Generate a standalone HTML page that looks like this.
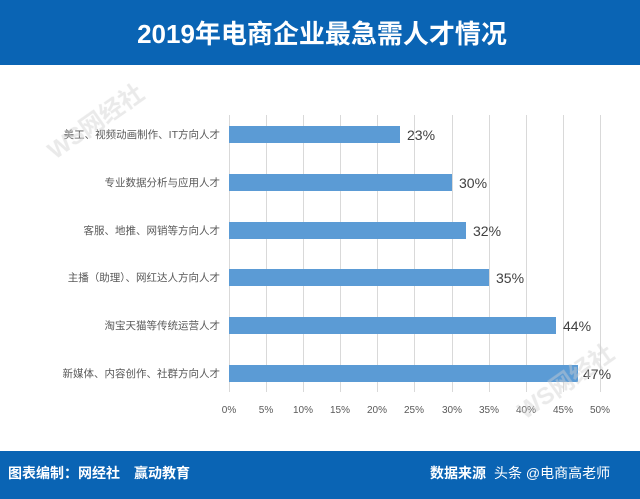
<!DOCTYPE html>
<html><head><meta charset="utf-8"><style>
body{margin:0;width:640px;height:499px;overflow:hidden;background:#fff;font-family:"Liberation Sans","Noto Sans CJK SC",sans-serif;}
</style></head><body>
<svg width="640" height="499" xmlns="http://www.w3.org/2000/svg" style="display:block">
<rect x="0" y="0" width="640" height="65" fill="#0a64b4"/>
<text x="322" y="43" text-anchor="middle" fill="#fff" font-size="26" font-weight="bold" font-family="Liberation Sans, Noto Sans CJK SC, sans-serif">2019年电商企业最急需人才情况</text>
<g stroke="#d9d9d9" stroke-width="1">
<line x1="229.5" y1="115" x2="229.5" y2="392"/>
<line x1="266.5" y1="115" x2="266.5" y2="392"/>
<line x1="303.5" y1="115" x2="303.5" y2="392"/>
<line x1="340.5" y1="115" x2="340.5" y2="392"/>
<line x1="377.5" y1="115" x2="377.5" y2="392"/>
<line x1="414.5" y1="115" x2="414.5" y2="392"/>
<line x1="452.5" y1="115" x2="452.5" y2="392"/>
<line x1="489.5" y1="115" x2="489.5" y2="392"/>
<line x1="526.5" y1="115" x2="526.5" y2="392"/>
<line x1="563.5" y1="115" x2="563.5" y2="392"/>
<line x1="600.5" y1="115" x2="600.5" y2="392"/>
</g>
<g fill="#5b9bd5">
<rect x="229" y="126" width="171" height="17"/>
<rect x="229" y="174" width="223" height="17"/>
<rect x="229" y="222" width="237" height="17"/>
<rect x="229" y="269" width="260" height="17"/>
<rect x="229" y="317" width="327" height="17"/>
<rect x="229" y="365" width="349" height="17"/>
</g>
<g font-size="14" fill="#404040">
<text x="407" y="140">23%</text>
<text x="459" y="188">30%</text>
<text x="473" y="236">32%</text>
<text x="496" y="283">35%</text>
<text x="563" y="331">44%</text>
<text x="583" y="379">47%</text>
</g>
<g font-size="10.5" fill="#595959" text-anchor="end">
<text x="220" y="138">美工、视频动画制作、IT方向人才</text>
<text x="220" y="186">专业数据分析与应用人才</text>
<text x="220" y="234">客服、地推、网销等方向人才</text>
<text x="220" y="281">主播（助理）、网红达人方向人才</text>
<text x="220" y="329">淘宝天猫等传统运营人才</text>
<text x="220" y="377">新媒体、内容创作、社群方向人才</text>
</g>
<g font-size="10" fill="#595959" text-anchor="middle">
<text x="229" y="413">0%</text><text x="266" y="413">5%</text><text x="303" y="413">10%</text>
<text x="340" y="413">15%</text><text x="377" y="413">20%</text><text x="414" y="413">25%</text>
<text x="452" y="413">30%</text><text x="489" y="413">35%</text><text x="526" y="413">40%</text>
<text x="563" y="413">45%</text><text x="600" y="413">50%</text>
</g>
<g fill="#d0d0d0" opacity="0.45" font-weight="bold">
<text x="55" y="160" font-size="24" transform="rotate(-35 55 160)">WS网经社</text>
<text x="525" y="420" font-size="24" transform="rotate(-35 525 420)">WS网经社</text>
</g>
<rect x="0" y="451" width="640" height="48" fill="#0a64b4"/>
<text x="8" y="478" fill="#fff" font-size="14" font-weight="bold">图表编制：网经社　赢动教育</text>
<text x="430" y="478" fill="#fff" font-size="14" font-weight="bold">数据来源</text>
<text x="494" y="478" fill="#fff" font-size="14">头条 @电商高老师</text>
</svg>
</body></html>
